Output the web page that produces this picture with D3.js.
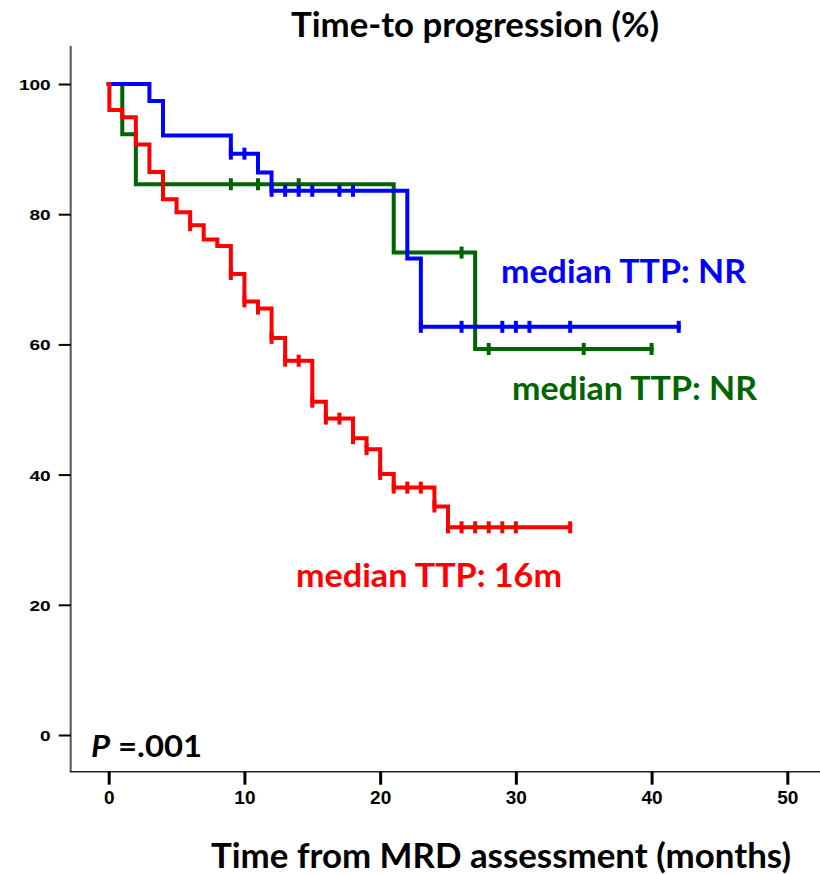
<!DOCTYPE html>
<html>
<head>
<meta charset="utf-8">
<script src="https://cdn.jsdelivr.net/npm/d3@7"></script>
<style>
  html, body { margin: 0; padding: 0; background: #fff; }
  svg { display: block; }
</style>
</head>
<body>
<svg id="chart" width="820" height="874"></svg>
<script>
// ---- data ----
const xTicks = [0, 10, 20, 30, 40, 50];
const yTicks = [0, 20, 40, 60, 80, 100];

// blue group
const blueTimes  = [0, 3, 4, 9, 11, 12, 22, 23];
const blueSurv   = [100, 97.4, 92.1, 89.3, 86.4, 83.6, 73.2, 62.7];
const blueEnd    = 42;
const blueCensor = [9, 10, 12, 13, 14, 15, 17, 18, 23, 26, 29, 30, 31, 34, 42];

// green group
const greenTimes  = [0, 1, 2, 21, 27];
const greenSurv   = [100, 92.3, 84.6, 74.1, 59.3];
const greenEnd    = 40;
const greenCensor = [9, 11, 14, 26, 28, 35, 40];

// red group
const redTimes  = [0, 0.05, 1, 2, 3, 4, 5, 6, 7, 8, 9, 10, 11, 12, 13, 15, 16, 18, 19, 20, 21, 24, 25];
const redSurv   = [100, 96.0, 94.9, 90.7, 86.5, 82.3, 80.3, 78.3, 76.1, 75.1, 70.8, 66.6, 65.5, 61.0, 57.5, 51.2, 48.6, 45.6, 43.9, 40.1, 38.0, 35.1, 31.9];
const redEnd    = 34;
const redCensor = [6, 9, 10, 11, 12, 13, 14, 15, 16, 17, 18, 19, 20, 21, 22, 23, 24, 25, 26, 27, 28, 29, 30, 34];

const groups = [
  { name: "green", color: "#006400", times: greenTimes, surv: greenSurv, end: greenEnd, censor: greenCensor },
  { name: "blue",  color: "#0000ff", times: blueTimes,  surv: blueSurv,  end: blueEnd,  censor: blueCensor },
  { name: "red",   color: "#ff0000", times: redTimes,   surv: redSurv,   end: redEnd,   censor: redCensor }
];

const labels = [
  { text: "median TTP: NR",  color: "#0000ff", x: 501, y: 283, w: 245 },
  { text: "median TTP: NR",  color: "#006400", x: 512, y: 400, w: 245 },
  { text: "median TTP: 16m", color: "#ff0000", x: 296, y: 587, w: 266 }
];

// ---- layout ----
const svg = d3.select("#chart");
const x = d3.scaleLinear().domain([0, 50]).range([108.7, 787.3]);
const y = d3.scaleLinear().domain([0, 100]).range([735, 84]);

const axisLeftX = 70.7, axisBottomY = 771.7;

// axis lines
svg.append("line")
  .attr("x1", axisLeftX).attr("x2", axisLeftX)
  .attr("y1", 46).attr("y2", axisBottomY)
  .attr("stroke", "#555").attr("stroke-width", 2);
svg.append("line")
  .attr("x1", axisLeftX - 1).attr("x2", 820)
  .attr("y1", axisBottomY).attr("y2", axisBottomY)
  .attr("stroke", "#222").attr("stroke-width", 1.6);

// x axis ticks
const gx = svg.append("g")
  .attr("transform", `translate(0,${axisBottomY})`)
  .call(d3.axisBottom(x).tickValues(xTicks).tickSize(13).tickSizeOuter(0).tickPadding(6));
gx.select(".domain").remove();
gx.selectAll(".tick line").attr("stroke", "#000").attr("stroke-width", 3);
gx.selectAll(".tick text")
  .attr("font-family", "'Liberation Sans', Arial, sans-serif")
  .attr("font-weight", "bold").attr("font-size", 19).attr("fill", "#000")
  .attr("dy", "0.71em");

// y axis ticks
const gy = svg.append("g")
  .attr("transform", `translate(${axisLeftX},0)`)
  .call(d3.axisLeft(y).tickValues(yTicks).tickSize(12).tickSizeOuter(0).tickPadding(8));
gy.select(".domain").remove();
gy.selectAll(".tick line").attr("stroke", "#000").attr("stroke-width", 2);
gy.selectAll(".tick text")
  .attr("font-family", "'Liberation Sans', Arial, sans-serif")
  .attr("font-weight", "bold").attr("font-size", 15).attr("fill", "#000")
  .attr("dy", "0.36em")
  .each(function () {
    const w = this.getComputedTextLength();
    d3.select(this).attr("textLength", w * 1.27).attr("lengthAdjust", "spacingAndGlyphs");
  });

// curves
const line = d3.line().x(d => x(d[0])).y(d => y(d[1])).curve(d3.curveStepAfter);
function survAt(g, t) {
  let s = g.surv[0];
  for (let i = 0; i < g.times.length; i++) if (g.times[i] <= t) s = g.surv[i];
  return s;
}
groups.forEach(g => {
  const pts = g.times.map((t, i) => [t, g.surv[i]]);
  pts.push([g.end, g.surv[g.surv.length - 1]]);
  svg.append("path")
    .attr("d", line(pts))
    .attr("fill", "none")
    .attr("stroke", g.color)
    .attr("stroke-width", 4)
    .attr("stroke-linejoin", "miter")
    .attr("stroke-linecap", "square");
  svg.append("g").selectAll("line")
    .data(g.censor)
    .join("line")
    .attr("x1", d => x(d)).attr("x2", d => x(d))
    .attr("y1", d => y(survAt(g, d)) - 6)
    .attr("y2", d => y(survAt(g, d)) + 6)
    .attr("stroke", g.color)
    .attr("stroke-width", 4);
});

// text helpers
const humanist = "Lato, 'Open Sans', sans-serif";
function fitText(sel, w) {
  sel.attr("textLength", w).attr("lengthAdjust", "spacingAndGlyphs");
}

// title
svg.append("text")
  .attr("x", 291).attr("y", 37)
  .attr("font-family", humanist).attr("font-weight", "bold").attr("font-size", 34)
  .attr("fill", "#000")
  .text("Time-to progression (%)")
  .call(fitText, 368);

// x title
svg.append("text")
  .attr("x", 211).attr("y", 868)
  .attr("font-family", humanist).attr("font-weight", "bold").attr("font-size", 34)
  .attr("fill", "#000")
  .text("Time from MRD assessment (months)")
  .call(fitText, 580);

// p-value
const pt = svg.append("text")
  .attr("x", 91).attr("y", 757)
  .attr("font-family", humanist).attr("font-weight", "bold").attr("font-size", 30)
  .attr("fill", "#000");
pt.append("tspan").attr("font-style", "italic").text("P");
pt.append("tspan").text(" =.001");
pt.call(fitText, 111);

// median labels
labels.forEach(l => {
  svg.append("text")
    .attr("x", l.x).attr("y", l.y)
    .attr("font-family", humanist).attr("font-weight", "bold").attr("font-size", 33)
    .attr("fill", l.color)
    .text(l.text)
    .call(fitText, l.w);
});
</script>
</body>
</html>
